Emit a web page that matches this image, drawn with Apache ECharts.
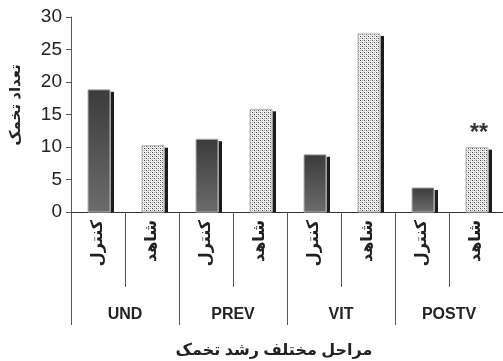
<!DOCTYPE html>
<html>
<head>
<meta charset="utf-8">
<script src="https://cdn.jsdelivr.net/npm/echarts@6/dist/echarts.min.js"></script>
<style>
  html, body { margin: 0; padding: 0; background: #fff; }
  #chart { width: 503px; height: 361px; }
</style>
</head>
<body>
<div id="chart"></div>
<script>
// Oocyte counts per developmental stage, control vs. witness
const stages = ['UND', 'PREV', 'VIT', 'POSTV'];
const treatments = ['کنترل', 'شاهد'];
const controlValues = [18.8, 11.2, 8.8, 3.7];
const witnessValues = [10.2, 15.8, 27.4, 9.9];
const witnessMarks = ['', '', '', '**'];
const yTicks = { min: 0, max: 30, interval: 5 };
const yTitle = 'تعداد تخمک';
const xTitle = 'مراحل مختلف رشد تخمک';

const FONT = '"Liberation Sans", "DejaVu Sans", Arial, sans-serif';

// one category per (stage, treatment) pair
const subCategories = [];
stages.forEach(() => treatments.forEach(t => subCategories.push(t)));

const controlData = controlValues.map((v, i) => [i * 2, v, '']);
const witnessData = witnessValues.map((v, i) => [i * 2 + 1, v, witnessMarks[i]]);

// stippled fill for the witness bars
function stipple() {
  const c = document.createElement('canvas');
  c.width = 4; c.height = 4;
  const g = c.getContext('2d');
  g.fillStyle = '#f4f4f4';
  g.fillRect(0, 0, 4, 4);
  g.fillStyle = '#444';
  g.fillRect(0, 0, 1, 1);
  g.fillRect(2, 2, 1, 1);
  g.fillStyle = '#a8a8a8';
  g.fillRect(2, 0, 1, 1);
  g.fillRect(0, 2, 1, 1);
  g.fillStyle = '#d6d6d6';
  g.fillRect(1, 1, 1, 1);
  g.fillRect(3, 3, 1, 1);
  return c;
}
const stipplePattern = { image: stipple(), repeat: 'repeat' };

const controlFill = {
  type: 'linear', x: 0, y: 0, x2: 0, y2: 1,
  colorStops: [{ offset: 0, color: '#3b3b3b' }, { offset: 1, color: '#6c6c6c' }]
};

function makeRenderer(fill) {
  return function (params, api) {
    const idx = api.value(0);
    const val = api.value(1);
    const mark = witnessData.concat(controlData).find(d => d[0] === idx)[2];
    const base = api.coord([idx, 0]);
    const top = api.coord([idx, val]);
    const c = base[0];
    const h = base[1] - top[1];
    const children = [
      {
        type: 'rect',
        shape: { x: c + 12.5, y: top[1] + 2, width: 3.5, height: h - 2 },
        style: { fill: '#1c1c1c' }
      },
      {
        type: 'rect',
        shape: { x: c - 10, y: top[1], width: 22, height: h },
        style: { fill: fill, stroke: '#b5b5b5', lineWidth: 1 }
      }
    ];
    if (mark) {
      children.push({
        type: 'text',
        style: {
          text: mark, x: c + 3, y: top[1] - 14,
          fill: '#333', font: 'bold 23px ' + FONT,
          textAlign: 'center', textVerticalAlign: 'middle'
        }
      });
    }
    return { type: 'group', children: children };
  };
}

const chart = echarts.init(document.getElementById('chart'), null, { renderer: 'canvas' });
chart.setOption({
  animation: false,
  backgroundColor: '#fff',
  grid: { left: 71, top: 17, width: 434, height: 195 },
  xAxis: [
    {
      type: 'category',
      data: subCategories,
      position: 'bottom',
      axisLine: { show: true, lineStyle: { color: '#333', width: 1 } },
      axisTick: { show: true, length: 75, lineStyle: { color: '#555' } },
      axisLabel: {
        rotate: 90, margin: 8, color: '#222',
        fontFamily: FONT, fontSize: 16, fontWeight: 'bold'
      }
    },
    {
      type: 'category',
      data: stages,
      position: 'bottom',
      axisLine: { show: false },
      axisTick: { show: true, length: 113, lineStyle: { color: '#555' } },
      axisLabel: {
        margin: 95, color: '#222',
        fontFamily: FONT, fontSize: 16, fontWeight: 'bold'
      }
    }
  ],
  yAxis: {
    type: 'value',
    min: yTicks.min, max: yTicks.max, interval: yTicks.interval,
    splitLine: { show: false },
    axisLine: { show: true, lineStyle: { color: '#555' } },
    axisTick: { show: true, length: 5, lineStyle: { color: '#555' } },
    axisLabel: { margin: 9, color: '#222', fontFamily: FONT, fontSize: 19 }
  },
  graphic: [
    {
      type: 'text', x: 16, y: 105, rotation: Math.PI / 2,
      style: {
        text: yTitle, fill: '#222', font: 'bold 15px ' + FONT,
        textAlign: 'center', textVerticalAlign: 'middle'
      }
    },
    {
      type: 'text', x: 274, y: 351,
      style: {
        text: xTitle, fill: '#222', font: 'bold 16px ' + FONT,
        textAlign: 'center', textVerticalAlign: 'middle'
      }
    }
  ],
  series: [
    {
      type: 'custom', name: 'کنترل', xAxisIndex: 0,
      renderItem: makeRenderer(controlFill),
      encode: { x: 0, y: 1 },
      data: controlData
    },
    {
      type: 'custom', name: 'شاهد', xAxisIndex: 0,
      renderItem: makeRenderer(stipplePattern),
      encode: { x: 0, y: 1 },
      data: witnessData
    }
  ]
});
</script>
</body>
</html>
